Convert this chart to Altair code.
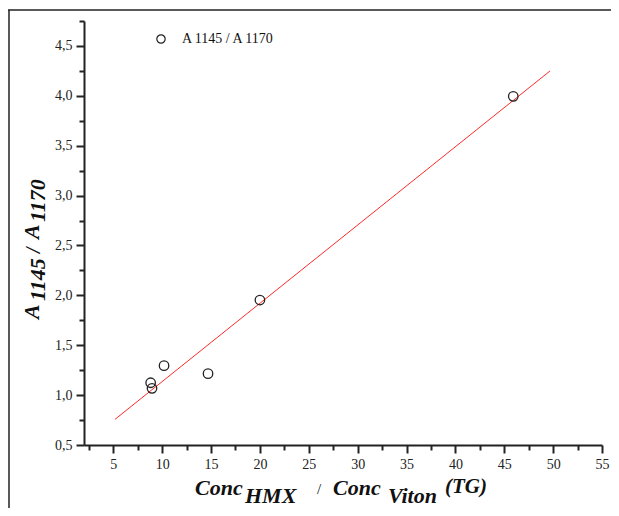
import altair as alt
import pandas as pd

# Data
conc_ratio = [8.82, 8.96, 10.19, 14.69, 20.0, 45.92]
abs_ratio = [1.124, 1.068, 1.295, 1.215, 1.953, 3.995]
fit_x = [5.17, 49.68]
fit_y = [0.757, 4.249]

x_ticks = [2.5 + 2.5 * i for i in range(22)]
y_ticks = [0.5 + 0.25 * i for i in range(18)]

pts = pd.DataFrame({"x": conc_ratio, "y": abs_ratio})
fit = pd.DataFrame({"x": fit_x, "y": fit_y})
one = pd.DataFrame({"d": [0]})

SERIF = "Liberation Serif, Times New Roman, Times, serif"

xscale = alt.Scale(domain=[2, 55], nice=False, zero=False)
yscale = alt.Scale(domain=[0.5, 4.75], nice=False, zero=False)

x_major = "abs(datum.value/5 - round(datum.value/5)) < 0.000001"
y_major = "abs(datum.value*2 - round(datum.value*2)) < 0.000001"

xaxis = alt.Axis(
    title=None, values=x_ticks, grid=False,
    labelExpr=f"({x_major}) ? format(datum.value, '.0f') : ''",
    tickSize={"condition": {"test": x_major, "value": 8}, "value": 5},
    tickWidth=2, tickColor="#222", domainWidth=2, domainColor="#222",
    labelFont=SERIF, labelFontSize=14, labelColor="#222", labelPadding=4,
    labelOverlap=False, labelFlush=False,
)
yaxis = alt.Axis(
    title=None, values=y_ticks, grid=False,
    labelExpr=f"({y_major}) ? replace(format(datum.value, '.1f'), '.', ',') : ''",
    tickSize={"condition": {"test": y_major, "value": 8}, "value": 5},
    tickWidth=2, tickColor="#222", domainWidth=2, domainColor="#222",
    labelFont=SERIF, labelFontSize=14, labelColor="#222", labelPadding=4,
    labelOverlap=False, labelFlush=False,
)

points = alt.Chart(pts).mark_point(
    shape="circle", filled=False, size=90, strokeWidth=1.3, color="#222", opacity=1
).encode(
    x=alt.X("x:Q", scale=xscale, axis=xaxis),
    y=alt.Y("y:Q", scale=yscale, axis=yaxis),
)

line = alt.Chart(fit).mark_line(color="#ff2a2a", strokeWidth=1).encode(
    x=alt.X("x:Q", scale=xscale, axis=xaxis),
    y=alt.Y("y:Q", scale=yscale, axis=yaxis),
)

def txt(s, x, y, size, weight="bold", style="italic", angle=0, baseline="alphabetic"):
    return alt.Chart(one).mark_text(
        text=s, font=SERIF, fontSize=size, fontWeight=weight, fontStyle=style,
        align="left", baseline=baseline, angle=angle, color="#111"
    ).encode(x=alt.value(x), y=alt.value(y))

legend_sym = alt.Chart(one).mark_point(
    shape="circle", filled=False, size=70, strokeWidth=1.2, color="#222", opacity=1
).encode(x=alt.value(77), y=alt.value(18))
legend_txt = txt("A 1145 / A 1170", 98, 18, 14, weight="normal", style="normal", baseline="middle")

xt = [
    txt("Conc", 111, 474, 22),
    txt("HMX", 161, 482, 22),
    txt("/", 233, 473, 15, weight="normal", style="normal"),
    txt("Conc", 249, 474, 22),
    txt("Viton", 304, 482, 22),
    txt("(TG)", 361, 472, 21),
]
yt = [
    txt("A", -45, 298, 22, angle=270),
    txt("1145", -39, 280, 22, angle=270),
    txt("/", -44, 232, 20, angle=270),
    txt("A", -45, 218, 22, angle=270),
    txt("1170", -39, 201, 22, angle=270),
]

frame_top = alt.Chart(one).mark_rule(color="#222", strokeWidth=1.5).encode(
    x=alt.value(-76), x2=alt.value(527), y=alt.value(-11)
)
frame_left = alt.Chart(one).mark_rule(color="#222", strokeWidth=1.5).encode(
    x=alt.value(-75), y=alt.value(-11), y2=alt.value(487)
)

chart = alt.layer(
    line, points, legend_sym, legend_txt, *xt, *yt, frame_top, frame_left
).properties(
    width=518, height=424,
    autosize=alt.AutoSizeParams(type="none"),
    padding={"left": 76, "top": 13, "right": 9, "bottom": 63},
).configure_view(stroke=None)

chart.save("out.html", embed_options={"renderer": "svg", "actions": False})
